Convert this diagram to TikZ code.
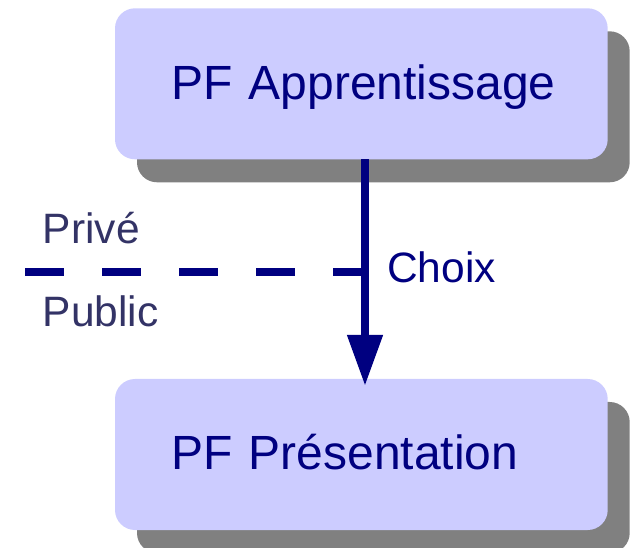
\documentclass[tikz,border=0pt]{standalone}
\usepackage{fontspec}
\setmainfont{Liberation Sans}
\usetikzlibrary{arrows.meta,shadows}
\definecolor{navy}{HTML}{000080}
\definecolor{boxfill}{HTML}{CCCCFF}
\definecolor{slate}{HTML}{333366}
\definecolor{shade}{HTML}{808080}
\tikzset{
  pfbox/.style={fill=boxfill, draw=none, rounded corners=20pt,
    minimum width=492.7pt, minimum height=151pt,
    inner xsep=56.3pt, inner ysep=0pt, text width=380pt, align=left,
    text height=36pt, text depth=5.5pt,
    font=\fontsize{48}{50}\selectfont, text=navy,
    drop shadow={shadow xshift=22pt, shadow yshift=-23pt, fill=shade, opacity=1}},
  sidelabel/.style={anchor=base west, inner sep=0pt, font=\fontsize{42.5}{45}\selectfont},
  choice/.style={draw=navy, line width=8pt, -{Triangle[length=51pt,width=34pt]}},
  border/.style={draw=navy, line width=8pt, dash pattern=on 38.5pt off 38.5pt},
}
\begin{document}
\begin{tikzpicture}[x=1pt,y=-1pt]
\useasboundingbox (0,0) rectangle (630,548);
\clip (0,0) rectangle (630,548);
\node[pfbox] (app) at (361.35,83.8) {\mbox{PF Apprentissage}};
\node[pfbox] (pres) at (361.35,454.5) {\mbox{PF Présentation}};
\coordinate (ax) at (365,0);
\coordinate (dstart) at (25,272.5);
\draw[border] (dstart) -- (dstart -| ax);
\draw[choice] (app.south -| ax) -- ([yshift=-7pt]pres.north -| ax);
\node[sidelabel, text=slate] (prive) at (42.7,244) {Privé};
\node[sidelabel, text=slate] (public) at (42.7,327) {Public};
\node[sidelabel, text=navy] (choix) at (386.9,283) {Choix};
\end{tikzpicture}
\end{document}
